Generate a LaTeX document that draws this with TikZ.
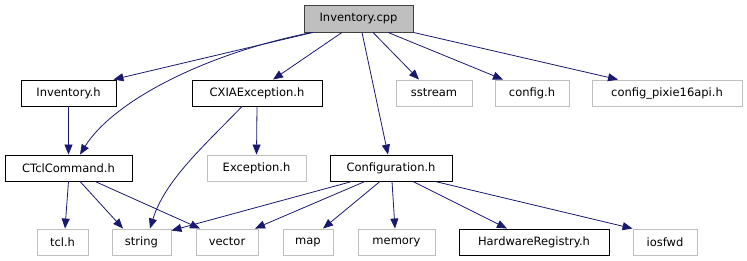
\documentclass[tikz,border=0pt]{standalone}
\usepackage{fontspec}
\setmainfont{DejaVu Sans}
\usetikzlibrary{arrows.meta}
\definecolor{edgeblue}{HTML}{191970}
\definecolor{extgray}{HTML}{BFBFBF}
\definecolor{rootborder}{HTML}{404040}
\begin{document}
\begin{tikzpicture}[
    x=1pt, y=-1pt,
    font=\fontsize{11.5}{13}\selectfont,
    root/.style={rectangle, draw=rootborder, fill=extgray, line width=0.9pt, inner sep=0pt, minimum height=27pt},
    header/.style={rectangle, draw=black, line width=0.9pt, inner sep=0pt, minimum height=26pt},
    external/.style={rectangle, draw=extgray, line width=0.9pt, inner sep=0pt, minimum height=26pt},
    arrow/.style={draw=edgeblue, line width=0.8pt, -{Triangle[length=10pt,width=8pt]}}
]
\useasboundingbox (0,0) rectangle (747,261);

% --- Nodes ---
% Top (source file)
\node (cpp) at (358.5, 18.5) [root, minimum width=109pt] {Inventory.cpp};

% Row 1
\node (invh) at (68.5, 93) [header, minimum width=95pt] {Inventory.h};
\node (cxia) at (257, 93) [header, minimum width=130pt] {CXIAException.h};
\node (sstream) at (434, 93) [external, minimum width=76pt] {sstream};
\node (configh) at (532, 93) [external, minimum width=74pt] {config.h};
\node (pixie) at (667, 93) [external, minimum width=150pt] {config\_pixie16api.h};

% Row 2
\node (ctcl) at (68.5, 168) [header, minimum width=127pt] {CTclCommand.h};
\node (exc) at (256.5, 168) [external, minimum width=99pt] {Exception.h};
\node (conf) at (391, 168) [header, minimum width=122pt] {Configuration.h};

% Row 3
\node (tcl) at (62.5, 242) [external, minimum width=51pt] {tcl.h};
\node (string) at (141.5, 242) [external, minimum width=59pt] {string};
\node (vector) at (227, 242) [external, minimum width=62pt] {vector};
\node (map) at (308, 242) [external, minimum width=50pt] {map};
\node (memory) at (396.5, 242) [external, minimum width=77pt] {memory};
\node (hwreg) at (534, 242) [header, minimum width=150pt] {HardwareRegistry.h};
\node (iosfwd) at (665, 242) [external, minimum width=64pt] {iosfwd};

% --- Edges ---
% From Inventory.cpp
\draw [arrow] ([xshift=-45.5pt]cpp.south) -- ([xshift=-3pt]invh.north east);
\draw [arrow] ([xshift=-47pt]cpp.south) .. controls (200,55) and (112,103) .. ([xshift=11.5pt]ctcl.north);
\draw [arrow] ([xshift=-16.5pt]cpp.south) -- ([xshift=16pt]cxia.north);
\draw [arrow] ([xshift=3.5pt]cpp.south) -- ([xshift=-3pt]conf.north);
\draw [arrow] ([xshift=14.5pt]cpp.south) -- ([xshift=-15pt]sstream.north);
\draw [arrow] ([xshift=29.5pt]cpp.south) -- ([xshift=-29pt]configh.north);
\draw [arrow] (cpp.south east) -- ([xshift=-49pt]pixie.north);

% Second level
\draw [arrow] (invh.south) -- (ctcl.north);
\draw [arrow] (cxia.south) -- (exc.north);
\draw [arrow] ([xshift=-15pt]cxia.south) .. controls (205,145) and (165,180) .. ([xshift=8.5pt]string.north);

% From CTclCommand.h
\draw [arrow] (ctcl.south) -- ([xshift=2.5pt]tcl.north);
\draw [arrow] ([xshift=11.5pt]ctcl.south) -- ([xshift=-18.5pt]string.north);
\draw [arrow] ([xshift=26.5pt]ctcl.south) -- ([xshift=-27pt]vector.north);

% From Configuration.h
\draw [arrow] ([xshift=-39pt]conf.south) -- ([yshift=-2pt]string.north east);
\draw [arrow] ([xshift=-26pt]conf.south) -- ([xshift=28pt]vector.north);
\draw [arrow] ([xshift=-11pt]conf.south) -- ([xshift=15pt]map.north);
\draw [arrow] ([xshift=1pt]conf.south) -- ([xshift=-1.5pt]memory.north);
\draw [arrow] ([xshift=22pt]conf.south) -- ([xshift=-27pt]hwreg.north);
\draw [arrow] ([xshift=44pt]conf.south) -- (iosfwd.north west);

\end{tikzpicture}
\end{document}
